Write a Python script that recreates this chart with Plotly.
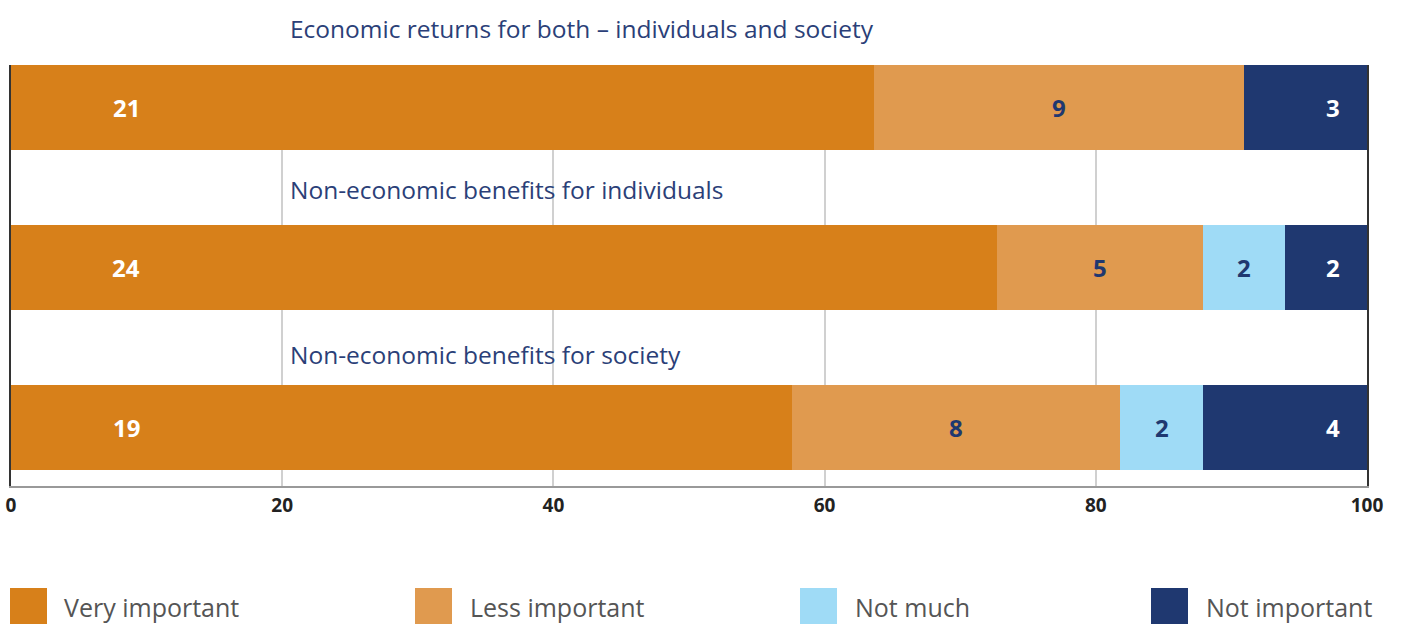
import plotly.graph_objects as go

# ---- data ----
categories = [
    "Economic returns for both – individuals and society",
    "Non-economic benefits for individuals",
    "Non-economic benefits for society",
]
series_names = ["Very important", "Less important", "Not much", "Not important"]
very_important = [21, 24, 19]
less_important = [9, 5, 8]
not_much = [0, 2, 2]
not_important = [3, 2, 4]
x_ticks = [0, 20, 40, 60, 80, 100]

# ---- style ----
colors = ["#d7801a", "#e09a4f", "#9fdbf6", "#1f3870"]
label_colors = ["white", "#1f3870", "#1f3870", "white"]
title_color = "#2b3f78"
FONT = "Open Sans"

W, H = 1401, 624
L, R, T, B = 11, 34, 65, 138
PW, PH = W - L - R, H - T - B
Y_RANGE = [2.366, -0.266]

def px_x(px):
    return (px - L) / PW

def px_y(py):
    return (H - B - py) / PH

def data_y_to_paper(y):
    return (Y_RANGE[0] - y) / (Y_RANGE[0] - Y_RANGE[1])

series = [very_important, less_important, not_much, not_important]
totals = [sum(s[i] for s in series) for i in range(len(categories))]
pct = [[v / totals[i] * 100 for i, v in enumerate(s)] for s in series]
ypos = list(range(len(categories)))

fig = go.Figure()
for name, vals, col in zip(series_names, pct, colors):
    fig.add_trace(go.Bar(
        y=ypos, x=vals, name=name, orientation="h",
        marker=dict(color=col, line=dict(width=0)),
        width=0.53, showlegend=False, hoverinfo="skip",
    ))

annotations = []
# value labels
for i in range(len(categories)):
    cum = 0
    nonzero = [k for k in range(len(series)) if series[k][i] > 0]
    for k in range(len(series)):
        v = series[k][i]
        p = pct[k][i]
        if v > 0:
            if k == nonzero[0]:
                xx = 8.5
            elif k == nonzero[-1]:
                xx = 97.5
            else:
                xx = cum + p / 2
            annotations.append(dict(
                x=xx, y=i, xref="x", yref="y", text=f"<b>{v}</b>",
                showarrow=False, xanchor="center", yanchor="middle",
                font=dict(family=FONT, size=24, color=label_colors[k]),
            ))
        cum += p

# category titles
title_offsets = [-0.495, -0.485, -0.455]
for i, c in enumerate(categories):
    annotations.append(dict(
        x=20.4, y=data_y_to_paper(i + title_offsets[i]), xref="x", yref="paper",
        text=c, showarrow=False, xanchor="left", yanchor="middle",
        font=dict(family=FONT, size=24.5, color=title_color),
    ))

# custom legend
leg_sq_x = [10, 415, 800, 1151]
leg_tx_x = [62, 468, 853, 1204]
shapes = []
for k, name in enumerate(series_names):
    shapes.append(dict(
        type="rect", xref="paper", yref="paper",
        x0=px_x(leg_sq_x[k]), x1=px_x(leg_sq_x[k] + 37),
        y0=px_y(588), y1=px_y(626),
        fillcolor=colors[k], line=dict(width=0), layer="above",
    ))
    annotations.append(dict(
        x=px_x(leg_tx_x[k]), y=px_y(607), xref="paper", yref="paper",
        text=name, showarrow=False, xanchor="left", yanchor="middle",
        font=dict(family=FONT, size=25, color="#555555"),
    ))

fig.update_layout(
    barmode="stack",
    width=W, height=H,
    margin=dict(l=L, r=R, t=T, b=B, pad=0, autoexpand=False),
    plot_bgcolor="white", paper_bgcolor="white",
    showlegend=False,
    annotations=annotations,
    shapes=shapes,
    font=dict(family=FONT),
)
fig.update_xaxes(
    range=[0, 100], tickvals=x_ticks, ticktext=[f"<b>{t}</b>" for t in x_ticks],
    tickfont=dict(family=FONT, size=19, color="#222222"),
    showgrid=True, gridcolor="#d0d0d0", gridwidth=1.5,
    showline=True, linecolor="#999999", linewidth=1.5,
    zeroline=False, ticks="", ticklabelstandoff=1, automargin=False,
)
fig.update_yaxes(
    range=Y_RANGE, showticklabels=False, showgrid=False, zeroline=False,
    showline=True, linecolor="#333333", linewidth=1.5, mirror=True, ticks="",
    automargin=False,
)

fig.write_html(
    "out.html",
    config={"displayModeBar": False},
    post_script="document.body.style.margin='0';document.body.style.padding='0';document.body.style.overflow='hidden';",
)
